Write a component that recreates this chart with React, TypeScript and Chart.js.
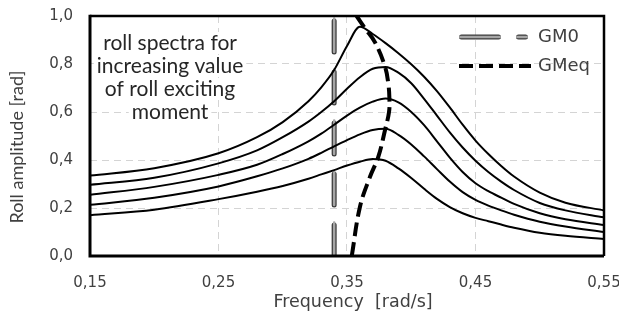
import React, { useEffect, useRef } from "react";
import { Chart, registerables } from "chart.js";

Chart.register(...registerables);

// ---- data ----
const FREQ = [0.15, 0.2, 0.25, 0.28, 0.3, 0.32, 0.33, 0.34, 0.35, 0.36, 0.37, 0.38, 0.39, 0.4, 0.41, 0.42, 0.43, 0.44, 0.45, 0.46, 0.47, 0.48, 0.5, 0.52, 0.55];
const ROLL_1 = [0.335, 0.366, 0.428, 0.495, 0.558, 0.645, 0.703, 0.775, 0.875, 0.955, 0.925, 0.887, 0.845, 0.799, 0.747, 0.687, 0.619, 0.547, 0.481, 0.425, 0.375, 0.331, 0.264, 0.222, 0.19];
const ROLL_2 = [0.297, 0.326, 0.386, 0.44, 0.495, 0.56, 0.6, 0.645, 0.697, 0.745, 0.78, 0.788, 0.764, 0.72, 0.655, 0.585, 0.515, 0.452, 0.397, 0.35, 0.31, 0.275, 0.221, 0.19, 0.161];
const ROLL_3 = [0.255, 0.288, 0.338, 0.38, 0.425, 0.478, 0.51, 0.547, 0.585, 0.618, 0.643, 0.656, 0.64, 0.6, 0.545, 0.478, 0.41, 0.35, 0.303, 0.27, 0.243, 0.217, 0.178, 0.153, 0.129];
const ROLL_4 = [0.213, 0.243, 0.29, 0.332, 0.365, 0.405, 0.43, 0.457, 0.483, 0.507, 0.525, 0.53, 0.505, 0.465, 0.415, 0.362, 0.31, 0.266, 0.234, 0.21, 0.19, 0.172, 0.143, 0.123, 0.1];
const ROLL_5 = [0.17, 0.193, 0.237, 0.268, 0.292, 0.322, 0.34, 0.358, 0.377, 0.393, 0.404, 0.397, 0.365, 0.325, 0.28, 0.238, 0.204, 0.178, 0.159, 0.145, 0.131, 0.118, 0.097, 0.084, 0.071];

const GMEQ_FREQ = [0.3537, 0.3601, 0.3679, 0.3744, 0.3796, 0.3827, 0.383, 0.3821, 0.3796, 0.3718, 0.364, 0.3575];
const GMEQ_AMP = [0, 0.205, 0.33, 0.414, 0.525, 0.6, 0.657, 0.72, 0.789, 0.89, 0.949, 1.0];

const GM0_FREQ = 0.34;
const GM0_AMP = [0, 1.0];

const X_TICKS = [0.15, 0.25, 0.35, 0.45, 0.55];
const Y_TICKS = [0, 0.2, 0.4, 0.6, 0.8, 1.0];

const LEGEND_LABELS = ["GM0", "GMeq"];
const ANNOTATION_LINES = ["roll spectra for", "increasing value", "of roll exciting", "moment"];
const ANNOTATION_X = 0.2123;
const ANNOTATION_Y = 0.8875;
const X_TITLE = "Frequency  [rad/s]";
const Y_TITLE = "Roll amplitude [rad]";

const TICK_FONT = { family: "'DejaVu Sans', sans-serif", size: 15 };
const GRID_COLOR = "#d4d4d4";
const TEXT_COLOR = "#404040";

const decorPlugin = {
  id: "decor",
  beforeDatasetsDraw(chart: any) {
    const { ctx, scales } = chart;
    const cx = scales.x.getPixelForValue(ANNOTATION_X);
    const y0 = scales.y.getPixelForValue(ANNOTATION_Y);
    ctx.save();
    ctx.font = "21px Lato, sans-serif";
    ctx.textAlign = "center";
    ctx.textBaseline = "middle";
    ANNOTATION_LINES.forEach((line, i) => {
      const y = y0 + i * 23;
      const w = ctx.measureText(line).width + 6;
      ctx.fillStyle = "#ffffff";
      ctx.fillRect(cx - w / 2, y - 11, w, 22);
      ctx.fillStyle = "#262626";
      ctx.fillText(line, cx, y);
    });
    ctx.restore();
  },
  afterDatasetsDraw(chart: any) {
    const { ctx, chartArea: a } = chart;
    ctx.save();
    ctx.strokeStyle = "#000";
    ctx.setLineDash([]);
    ctx.lineWidth = 2.5;
    ctx.beginPath();
    ctx.moveTo(a.left, a.top);
    ctx.lineTo(a.right, a.top);
    ctx.lineTo(a.right, a.bottom);
    ctx.stroke();
    ctx.lineWidth = 3;
    ctx.beginPath();
    ctx.moveTo(a.right, a.bottom);
    ctx.lineTo(a.left, a.bottom);
    ctx.lineTo(a.left, a.top - 1.25);
    ctx.stroke();
    ctx.restore();
  },
  afterDraw(chart: any) {
    const { ctx, chartArea: a } = chart;
    ctx.save();
    // legend
    const x1 = a.right - 145;
    const x2 = a.right - 76;
    const yGM0 = a.top + 21;
    const yGMeq = a.top + 50;
    ctx.lineCap = "round";
    ctx.setLineDash([37, 20]);
    ctx.lineWidth = 5;
    ctx.strokeStyle = "#3a3a3a";
    ctx.beginPath();
    ctx.moveTo(x1 + 2.5, yGM0);
    ctx.lineTo(x2 - 2.5, yGM0);
    ctx.stroke();
    ctx.setLineDash([39.5, 17.5]);
    ctx.lineWidth = 2.5;
    ctx.strokeStyle = "#a6a6a6";
    ctx.beginPath();
    ctx.moveTo(x1 + 1.25, yGM0);
    ctx.lineTo(x2 - 1.25, yGM0);
    ctx.stroke();
    ctx.lineCap = "butt";
    ctx.setLineDash([14, 6]);
    ctx.lineWidth = 4;
    ctx.strokeStyle = "#000";
    ctx.beginPath();
    ctx.moveTo(x1, yGMeq);
    ctx.lineTo(x2 + 3, yGMeq);
    ctx.stroke();
    ctx.setLineDash([]);
    ctx.font = "18px 'DejaVu Sans', sans-serif";
    ctx.fillStyle = "#404040";
    ctx.textAlign = "left";
    ctx.textBaseline = "middle";
    ctx.fillText(LEGEND_LABELS[0], a.right - 66, yGM0);
    ctx.fillText(LEGEND_LABELS[1], a.right - 66, yGMeq);
    // x title
    ctx.font = "17.5px 'DejaVu Sans', sans-serif";
    ctx.fillStyle = TEXT_COLOR;
    ctx.textAlign = "center";
    ctx.fillText(X_TITLE, (a.left + a.right) / 2 + 6, a.bottom + 46);
    // y title
    ctx.translate(17, (a.top + a.bottom) / 2 + 11);
    ctx.rotate(-Math.PI / 2);
    ctx.font = "18px Lato, sans-serif";
    ctx.fillStyle = TEXT_COLOR;
    ctx.textAlign = "center";
    ctx.fillText(Y_TITLE, 0, 0);
    ctx.restore();
  },
};

export default function App() {
  const ref = useRef<HTMLCanvasElement>(null);
  useEffect(() => {
    const curves = [ROLL_1, ROLL_2, ROLL_3, ROLL_4, ROLL_5].map((arr, i) => ({
      label: "roll " + (i + 1),
      data: FREQ.map((f, j) => ({ x: f, y: arr[j] })),
      borderColor: "#000",
      borderWidth: 2,
      pointRadius: 0,
      showLine: true,
      fill: false,
      cubicInterpolationMode: "monotone" as const,
      order: 1,
    }));
    const gm0Data = GM0_AMP.map((v) => ({ x: GM0_FREQ, y: v }));
    const chart = new Chart(ref.current!, {
      type: "scatter",
      data: {
        datasets: [
          {
            label: "GMeq",
            data: GMEQ_FREQ.map((f, j) => ({ x: f, y: GMEQ_AMP[j] })),
            borderColor: "#000",
            borderWidth: 4,
            borderDash: [14, 6],
            pointRadius: 0,
            showLine: true,
            fill: false,
            tension: 0.4,
            order: 0,
          },
          ...curves,
          {
            label: "GM0",
            data: gm0Data,
            borderColor: "#a6a6a6",
            borderWidth: 2.5,
            borderDash: [33.5, 17.5],
            borderCapStyle: "round",
            pointRadius: 0,
            showLine: true,
            order: 2,
          },
          {
            label: "GM0 outline",
            data: gm0Data,
            borderColor: "#3a3a3a",
            borderWidth: 5,
            borderDash: [31, 20],
            borderCapStyle: "round",
            pointRadius: 0,
            showLine: true,
            order: 3,
          },
        ],
      },
      options: {
        animation: false,
        responsive: false,
        devicePixelRatio: 1,
        layout: { padding: { top: 16, right: 0, left: 0, bottom: 0 } },
        plugins: { legend: { display: false }, tooltip: { enabled: false } },
        scales: {
          x: {
            type: "linear",
            min: 0.15,
            max: 0.55,
            afterBuildTicks: (s: any) => {
              s.ticks = X_TICKS.map((v) => ({ value: v }));
            },
            afterFit: (s: any) => {
              s.height = 59;
              s.paddingLeft = 0;
              s.paddingRight = 15;
            },
            ticks: {
              autoSkip: false,
              maxRotation: 0,
              padding: 18,
              color: TEXT_COLOR,
              font: TICK_FONT,
              callback: (v: any) => Number(v).toFixed(2).replace(".", ","),
            },
            grid: { color: GRID_COLOR, lineWidth: 1, drawTicks: false, borderDash: [7, 5] } as any,
            border: { display: false, dash: [7, 5] },
          },
          y: {
            type: "linear",
            min: 0,
            max: 1,
            afterBuildTicks: (s: any) => {
              s.ticks = Y_TICKS.map((v) => ({ value: v }));
            },
            afterFit: (s: any) => {
              s.width = 90;
              s.paddingTop = 0;
              s.paddingBottom = 0;
            },
            ticks: {
              padding: 17,
              color: TEXT_COLOR,
              font: TICK_FONT,
              callback: (v: any) => Number(v).toFixed(1).replace(".", ","),
            },
            grid: { color: GRID_COLOR, lineWidth: 1, drawTicks: false, borderDash: [7, 5] } as any,
            border: { display: false, dash: [7, 5] },
          },
        },
      },
      plugins: [decorPlugin],
    } as any);
    return () => chart.destroy();
  }, []);
  return (
    <div style={{ position: "fixed", left: 0, top: 0, width: 619, height: 315, background: "#fff" }}>
      <canvas ref={ref} width={619} height={315} style={{ display: "block", width: 619, height: 315 }} />
    </div>
  );
}
